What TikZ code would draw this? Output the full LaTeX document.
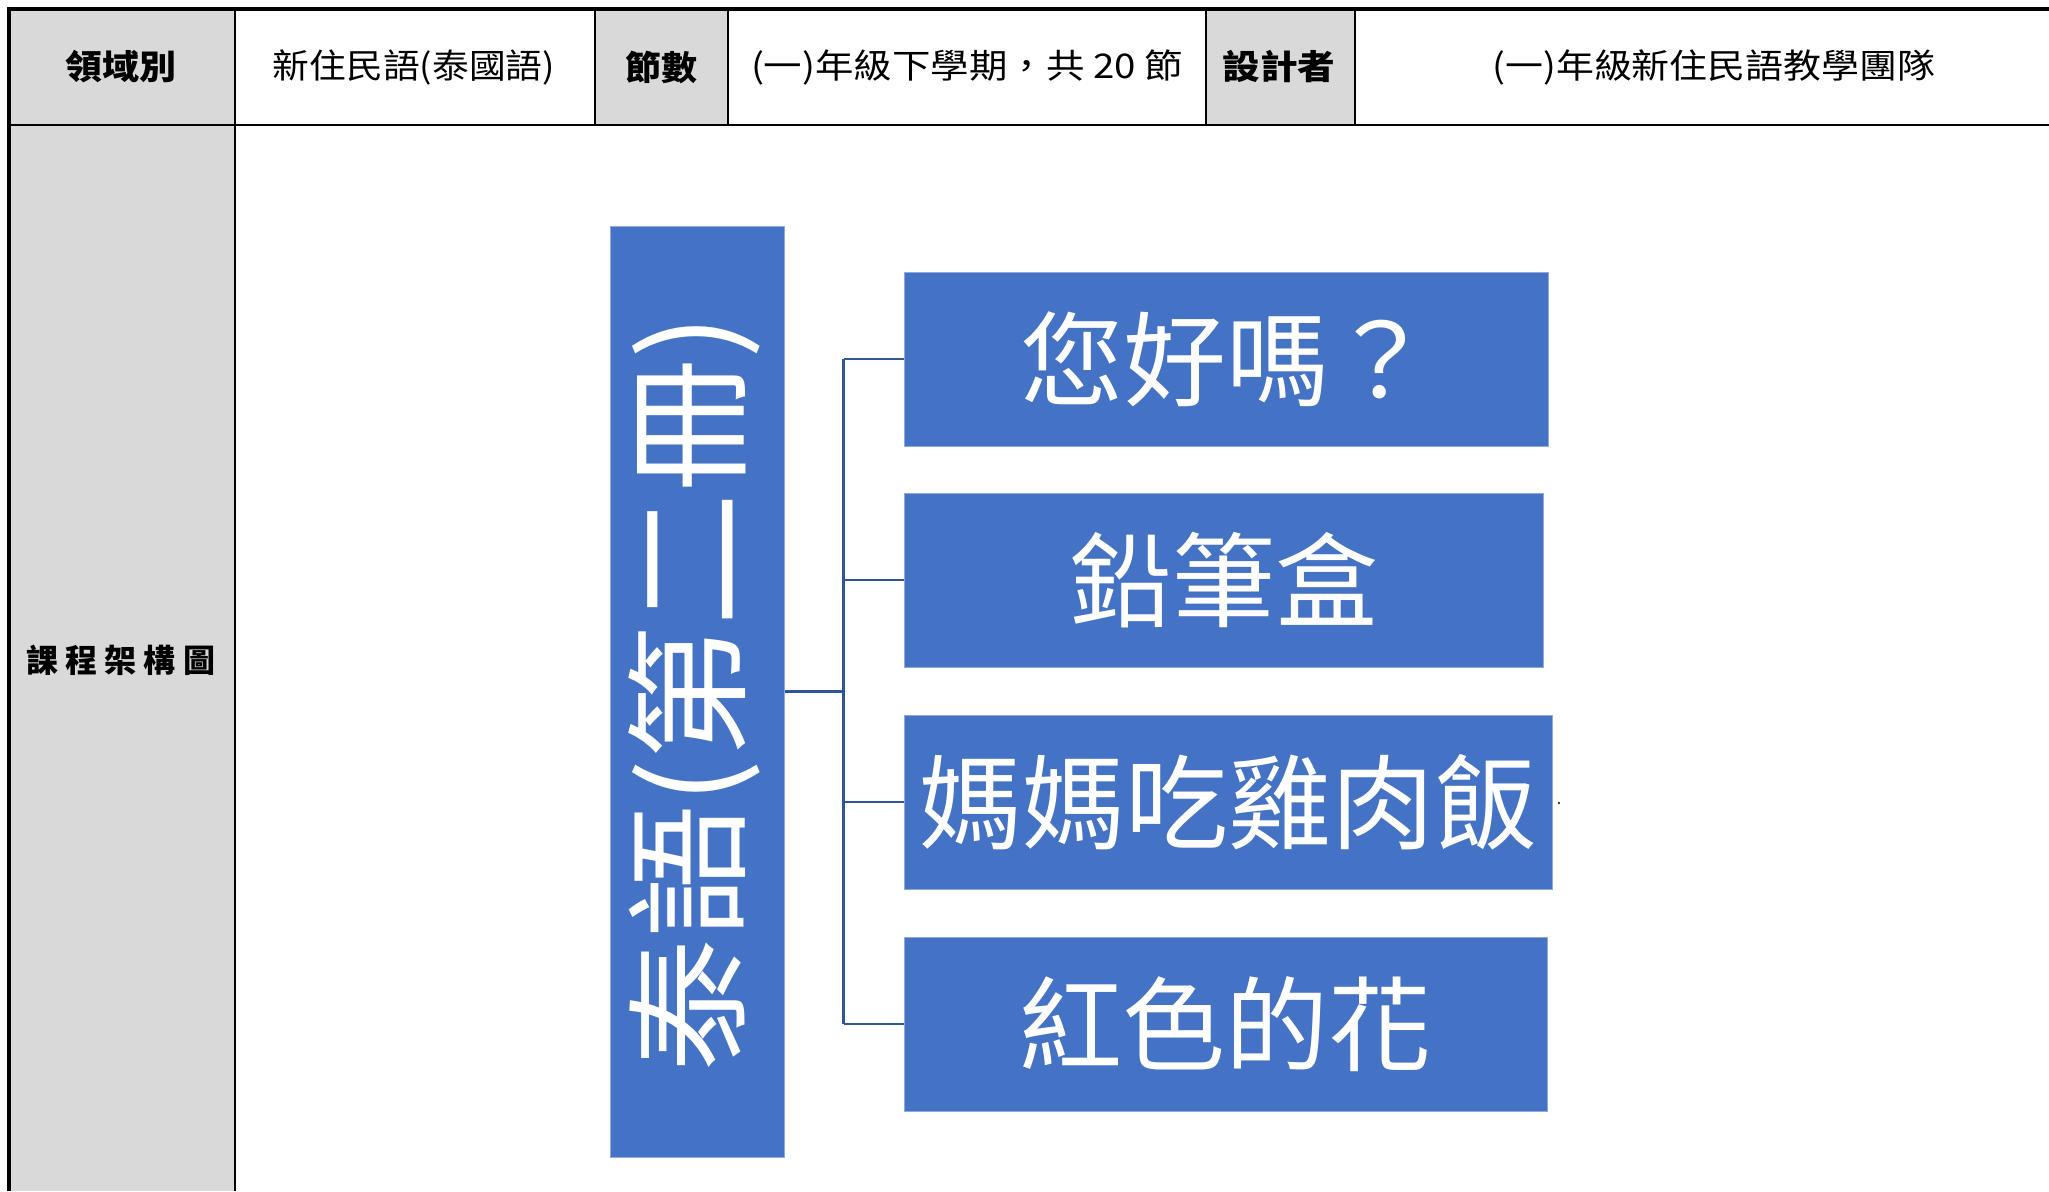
\documentclass[tikz,border=0pt]{standalone}
\usepackage{fontspec}
\setmainfont{Noto Sans CJK TC}
\usepackage{graphicx}
\definecolor{boxblue}{HTML}{4472C4}
\definecolor{boxedge}{HTML}{8FAADC}
\definecolor{connblue}{HTML}{2F5597}
\definecolor{cellgray}{HTML}{D9D9D9}
\newcommand{\fitw}[2]{\resizebox{#1}{\height}{#2}}
\newcommand{\gp}{\hspace{7pt}}
\begin{document}
\begin{tikzpicture}[x=1pt,y=-1pt,
  gridline/.style={line width=2.5pt, black},
  frameline/.style={line width=4pt, black},
  head/.style={font=\fontsize{34}{40}\selectfont\bfseries, inner sep=0pt, text=black},
  htext/.style={font=\fontsize{34}{40}\selectfont, inner sep=0pt, text=black},
  topic/.style={fill=boxblue, draw=boxedge, line width=1pt, text=white, inner sep=0pt,
                minimum height=174pt, font=\fontsize{103}{110}\selectfont},
  connector/.style={draw=connblue, line width=2.7pt}]
\useasboundingbox (0,0) rectangle (2049,1191);
\fill[white] (0,0) rectangle (2049,1191);
% gray cells
\fill[cellgray] (9,9) rectangle (235,1191);
\fill[cellgray] (595,9) rectangle (728,125);
\fill[cellgray] (1206,9) rectangle (1355,125);
% grid lines
\draw[gridline] (9,125) -- (2049,125);
\draw[gridline] (235,9) -- (235,1191);
\draw[gridline] (595,9) -- (595,125);
\draw[gridline] (728,9) -- (728,125);
\draw[gridline] (1206,9) -- (1206,125);
\draw[gridline] (1355,9) -- (1355,125);
\draw[frameline] (2049,9) -- (9,9) -- (9,1191);
% header texts
\node[head] (lblField) at (121,67) {\fitw{111pt}{領域別}};
\node[htext] (valField) at (414,67) {\fitw{282pt}{新住民語(泰國語)}};
\node[head] (lblCount) at (661,67) {\fitw{72pt}{節數}};
\node[htext] (valCount) at (967,67) {\fitw{432pt}{(一)年級下學期，共 20 節}};
\node[head] (lblDesign) at (1279,67) {\fitw{113pt}{設計者}};
\node[htext] (valDesign) at (1714,67) {\fitw{443pt}{(一)年級新住民語教學團隊}};
\node[head, font=\fontsize{32}{38}\selectfont\bfseries] (lblMap) at (121,660) {課\gp 程\gp 架\gp 構\gp 圖};
% main vertical box
\node[fill=boxblue, draw=boxedge, line width=1pt, minimum width=174pt, minimum height=931pt, inner sep=0pt] (main) at (697,691.5) {};
\node[rotate=90, text=white, font=\fontsize{126}{130}\selectfont, inner sep=0pt] (mainlbl) at (694,693) {\fitw{758pt}{泰語(第二冊)}};
% topic boxes
\node[topic, minimum width=644pt] (b1) at (1226,359) {您好嗎？};
\node[topic, minimum width=639pt] (b2) at (1223.5,580) {鉛筆盒};
\node[topic, minimum width=648pt] (b3) at (1228,802) {媽媽吃雞肉飯};
\node[topic, minimum width=643pt] (b4) at (1225.5,1024) {紅色的花};
% connectors
\coordinate (bus) at (843.5,691.5);
\draw[connector] (main.east) -- (bus);
\draw[connector] (b1.west -| bus) -- (b4.west -| bus);
\draw[connector] (b1.west -| bus) -- (b1.west);
\draw[connector] (b2.west -| bus) -- (b2.west);
\draw[connector] (b3.west -| bus) -- (b3.west);
\draw[connector] (b4.west -| bus) -- (b4.west);
\fill[black] (1559,803) circle (1.2pt);
\end{tikzpicture}
\end{document}
